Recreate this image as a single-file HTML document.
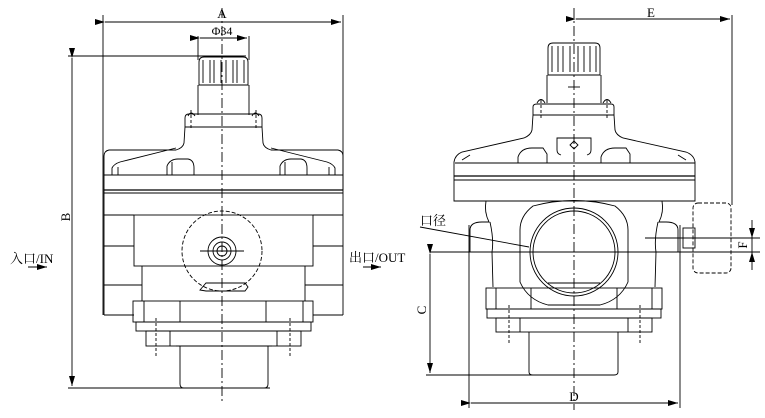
<!DOCTYPE html>
<html><head><meta charset="utf-8"><style>
html,body{margin:0;padding:0;background:#fff;}
svg{display:block;}
text{font-family:"Liberation Serif","Noto Serif CJK SC",serif;font-weight:normal;fill:#000;}
</style></head><body>
<svg width="765" height="418" viewBox="0 0 765 418" xmlns="http://www.w3.org/2000/svg">
<defs>
<marker id="ar" markerWidth="10" markerHeight="6" refX="10" refY="3" orient="auto" markerUnits="userSpaceOnUse"><path d="M0,0 L10,3 L0,6 Z" fill="#000"/></marker>
</defs>
<g fill="none" stroke="#000" stroke-width="0.9">
<line x1="103" y1="15" x2="103" y2="315"/>
<line x1="343" y1="15" x2="343" y2="190"/>
<line x1="105" y1="22" x2="341" y2="22" marker-start="url(#ar)" marker-end="url(#ar)"/>
<line x1="198" y1="36" x2="198" y2="60"/>
<line x1="249" y1="36" x2="249" y2="60"/>
<line x1="200" y1="38" x2="247" y2="38" marker-start="url(#ar)" marker-end="url(#ar)"/>
<line x1="68" y1="56" x2="246" y2="56"/>
<line x1="68" y1="388" x2="270" y2="388"/>
<line x1="72" y1="58" x2="72" y2="386" marker-start="url(#ar)" marker-end="url(#ar)"/>
<path d="M199,85 L199,62 Q199,57 204,57 L243,57 Q248,57 248,62 L248,85 Z"/>
<line x1="203" y1="60" x2="203" y2="83"/><line x1="210" y1="60" x2="210" y2="83"/>
<line x1="214" y1="60" x2="214" y2="83"/><line x1="221" y1="60" x2="221" y2="83"/>
<line x1="226" y1="60" x2="226" y2="83"/><line x1="233" y1="60" x2="233" y2="83"/>
<line x1="237" y1="60" x2="237" y2="83"/><line x1="244" y1="60" x2="244" y2="83"/>
<path d="M198,85 L198,115 M249,85 L249,115"/>
<path d="M185,127 L185,118 Q185,114 189,114 L258,114 Q262,114 262,118 L262,127"/>
<path d="M188,116 q3,-6 7,0 M252,116 q3,-6 7,0"/>
<line x1="191" y1="110" x2="191" y2="128" stroke-dasharray="3,2"/>
<line x1="256" y1="110" x2="256" y2="128" stroke-dasharray="3,2"/>
<line x1="185" y1="127" x2="262" y2="127"/>
<path d="M185,127 L184,143 Q183,148 176,150 L109,150 Q104,151 104,156 L104,193"/>
<path d="M262,127 L263,143 Q264,148 271,150 L338,150 Q343,151 343,156 L343,193"/>
<path d="M112,175 L112,168 Q114,164 120,162 L176,148 M335,175 L335,168 Q333,164 327,162 L271,148"/>
<path d="M118,175 L118,167 M329,175 L329,167"/>
<path d="M167,175 L167,166 Q170,159 178,159 L188,159 Q194,160 194,168 L194,175 M172,175 L172,162"/>
<path d="M280,175 L280,166 Q283,159 291,159 L301,159 Q307,160 307,168 L307,175 M285,175 L285,162"/>
<line x1="104" y1="175" x2="343" y2="175"/>
<line x1="104" y1="190" x2="343" y2="190" stroke-width="1.3"/>
<line x1="104" y1="193" x2="343" y2="193"/>
<line x1="104" y1="193" x2="104" y2="315"/>
<line x1="343" y1="193" x2="343" y2="315"/>
<line x1="104" y1="315" x2="134" y2="315"/><line x1="313" y1="315" x2="343" y2="315"/>
<rect x="134" y="215" width="179" height="51"/>
<line x1="104" y1="215" x2="134" y2="215"/><line x1="313" y1="215" x2="343" y2="215"/>
<line x1="104" y1="246" x2="134" y2="246"/><line x1="313" y1="246" x2="343" y2="246"/>
<line x1="104" y1="285" x2="142" y2="285"/><line x1="305" y1="285" x2="343" y2="285"/>
<line x1="142" y1="266" x2="142" y2="301"/><line x1="305" y1="266" x2="305" y2="301"/>
<circle cx="222" cy="251" r="40" stroke-dasharray="4,2"/>
<circle cx="222" cy="251" r="14"/><circle cx="222" cy="251" r="9"/><circle cx="222" cy="251" r="5"/>
<line x1="200" y1="251" x2="244" y2="251"/>
<path d="M200,290 L206,283 L245,283 L248,287 L245,291 L206,291 Z"/>
<rect x="133" y="301" width="180" height="21"/>
<line x1="144" y1="301" x2="144" y2="322"/><line x1="303" y1="301" x2="303" y2="322"/>
<line x1="180" y1="301" x2="180" y2="322"/><line x1="266" y1="301" x2="266" y2="322"/>
<rect x="136" y="322" width="175" height="9"/>
<rect x="146" y="331" width="155" height="15"/>
<line x1="170" y1="331" x2="170" y2="346"/><line x1="277" y1="331" x2="277" y2="346"/>
<line x1="156" y1="318" x2="156" y2="358" stroke-dasharray="3,2"/>
<line x1="290" y1="318" x2="290" y2="358" stroke-dasharray="3,2"/>
<path d="M180,346 L180,384 Q180,388 184,388 L264,388 Q268,388 268,384 L268,346"/>
<line x1="176" y1="346" x2="272" y2="346"/>
<line x1="222" y1="8" x2="222" y2="402" stroke-dasharray="10,3,2,3"/>
<line x1="28" y1="267" x2="47" y2="267" marker-end="url(#ar)"/>
<line x1="363" y1="267" x2="381" y2="267" marker-end="url(#ar)"/>

<line x1="574" y1="8" x2="574" y2="410" stroke-dasharray="10,3,2,3"/>
<line x1="732" y1="15" x2="732" y2="205"/>
<line x1="576" y1="19" x2="730" y2="19" marker-start="url(#ar)" marker-end="url(#ar)"/>
<path d="M548,75 L548,48 Q548,43 553,43 L595,43 Q600,43 600,48 L600,75 Z"/>
<line x1="552" y1="46" x2="552" y2="72"/><line x1="558" y1="46" x2="558" y2="72"/>
<line x1="563" y1="46" x2="563" y2="72"/><line x1="570" y1="46" x2="570" y2="72"/>
<line x1="578" y1="46" x2="578" y2="72"/><line x1="584" y1="46" x2="584" y2="72"/>
<line x1="590" y1="46" x2="590" y2="72"/><line x1="596" y1="46" x2="596" y2="72"/>
<path d="M547,75 L547,103 M601,75 L601,103"/>
<line x1="568" y1="87" x2="580" y2="87"/>
<path d="M533,115 L533,107 Q533,104 537,104 L611,104 Q614,104 614,107 L614,115"/>
<path d="M537,103 q4,-7 8,0 M603,103 q4,-7 8,0"/>
<line x1="541" y1="100" x2="541" y2="118" stroke-dasharray="3,2"/>
<line x1="607" y1="100" x2="607" y2="118" stroke-dasharray="3,2"/>
<line x1="533" y1="115" x2="614" y2="115"/>
<path d="M533,115 L532,130 Q531,135 524,138 L462,152 Q455,155 454,162 L454,176"/>
<path d="M614,115 L615,130 Q616,135 623,138 L686,152 Q694,155 695,162 L695,176"/>
<path d="M563,138 L557,138 L557,150 Q557,154 561,155 M585,138 L591,138 L591,150 Q591,154 587,155"/>
<path d="M563,138 L585,138"/>
<path d="M570,145 L574,141 L578,145 L574,149 Z"/>
<path d="M518,163 L518,157 Q521,148 532,148 L543,148 L547,154 L547,163"/>
<path d="M601,163 L601,157 Q604,148 615,148 L626,148 L630,154 L630,163"/>
<path d="M462,160 L470,155 M686,160 L678,155"/>
<line x1="455" y1="163" x2="695" y2="163"/>
<line x1="454" y1="176" x2="695" y2="176" stroke-width="1.3"/>
<line x1="454" y1="180" x2="695" y2="180"/>
<path d="M454,176 L454,201 L695,201 L695,176"/>
<path d="M486,201 Q484,212 489,222 L482,222 Q470,222 470,230 L470,252"/>
<path d="M662,201 Q664,212 659,222 L666,222 Q678,222 678,230 L678,252"/>
<path d="M490,222 Q494,240 492,252 L493,287 M658,222 Q654,240 656,252 L655,287"/>
<path d="M533,206 Q574,195 615,206 Q628,216 628,230 L628,282 Q620,300 600,305 L548,305 Q528,300 520,282 L520,230 Q520,216 533,206 Z"/>
<circle cx="574" cy="252" r="44"/><circle cx="574" cy="252" r="41"/>
<line x1="548" y1="283" x2="600" y2="283"/>
<line x1="430" y1="252" x2="700" y2="252"/>
<line x1="645" y1="238" x2="760" y2="238"/>
<line x1="700" y1="252" x2="760" y2="252"/>
<rect x="683" y="228" width="12" height="20"/>
<rect x="693" y="203" width="38" height="70" rx="5" stroke-dasharray="4,2"/>
<rect x="486" y="288" width="176" height="21"/>
<line x1="496" y1="288" x2="496" y2="309"/><line x1="652" y1="288" x2="652" y2="309"/>
<line x1="531" y1="288" x2="531" y2="309"/><line x1="617" y1="288" x2="617" y2="309"/>
<rect x="487" y="309" width="174" height="9"/>
<rect x="496" y="318" width="156" height="14"/>
<line x1="520" y1="318" x2="520" y2="332"/><line x1="628" y1="318" x2="628" y2="332"/>
<line x1="509" y1="305" x2="509" y2="345" stroke-dasharray="3,2"/>
<line x1="640" y1="305" x2="640" y2="345" stroke-dasharray="3,2"/>
<path d="M529,332 L529,372 Q529,375 533,375 L614,375 Q618,375 618,372 L618,332"/>
<line x1="426" y1="375" x2="533" y2="375"/>
<line x1="430" y1="254" x2="430" y2="373" marker-start="url(#ar)" marker-end="url(#ar)"/>
<line x1="469" y1="225" x2="469" y2="408"/>
<line x1="680" y1="225" x2="680" y2="408"/>
<line x1="471" y1="403" x2="678" y2="403" marker-start="url(#ar)" marker-end="url(#ar)"/>
<line x1="752" y1="220" x2="752" y2="238" marker-end="url(#ar)"/>
<line x1="752" y1="270" x2="752" y2="252" marker-end="url(#ar)"/>
<line x1="752" y1="238" x2="752" y2="252"/>
<line x1="420" y1="227" x2="529" y2="247"/>
</g>
<g font-size="13">
<text x="222" y="18" text-anchor="middle">A</text>
<text x="222" y="35" text-anchor="middle" font-size="12">Φ34</text>
<text x="70" y="217" text-anchor="middle" transform="rotate(-90 70 217)">B</text>
<text x="10" y="263">入口/IN</text>
<text x="349" y="262">出口/OUT</text>
<text x="651" y="17" text-anchor="middle">E</text>
<text x="574" y="401" text-anchor="middle">D</text>
<text x="426" y="310" text-anchor="middle" transform="rotate(-90 426 310)">C</text>
<text x="747" y="245" text-anchor="middle" transform="rotate(-90 747 245)">F</text>
<text x="420" y="225">口径</text>
</g>
</svg>
</body></html>
